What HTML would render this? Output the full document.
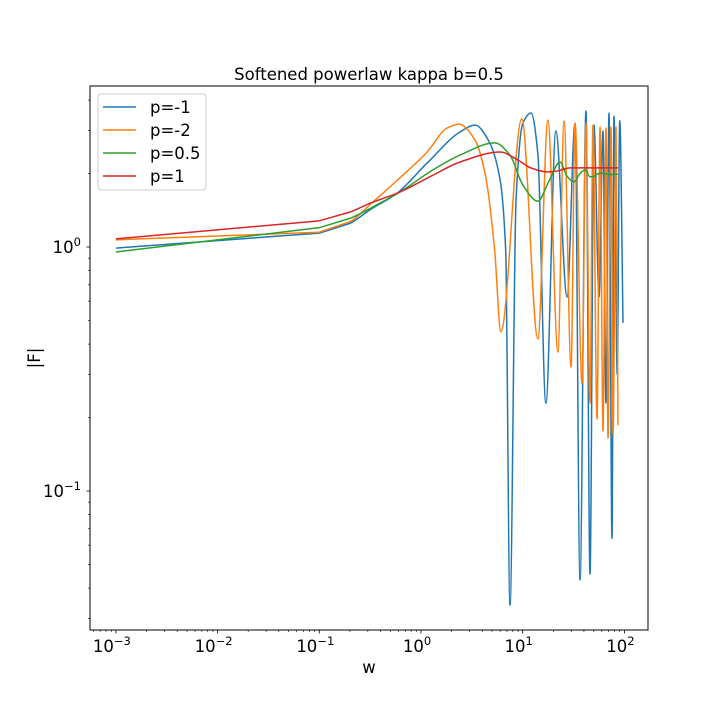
<!DOCTYPE html>
<html><head><meta charset="utf-8"><style>
body{margin:0;background:#fff}
svg text{font-family:"DejaVu Sans","Liberation Sans",sans-serif;fill:#000}
</style></head><body>
<svg id="chart" width="720" height="720" xmlns="http://www.w3.org/2000/svg">
<rect width="720" height="720" fill="#fff"/>
<text x="369" y="80" font-size="16.5" text-anchor="middle">Softened powerlaw kappa b=0.5</text>
<text x="369" y="673" font-size="16.5" text-anchor="middle">w</text>
<text x="40" y="358" font-size="16.5" text-anchor="middle" transform="rotate(-90 40 358)">|F|</text>
<g id="ticks"></g>
<g id="series" clip-path="url(#clip)"></g>
<defs><clipPath id="clip"><rect x="90" y="86" width="558" height="544"/></clipPath></defs>
<rect x="90" y="86" width="558" height="544" fill="none" stroke="#000" stroke-width="1"/>
<g id="legend"></g>
</svg>
<script>
const seriesNames=["p=-1","p=-2","p=0.5","p=1"];
const seriesColors=["#1f77b4","#ff7f0e","#2ca02c","#d62728"];
const xTickExps=[-3,-2,-1,0,1,2];
const yTickExps=[-1,0];
const wBlue=[0.001,0.1,0.2,0.315,0.58,1.15,2.42,3.4,4.6,6.0,6.8,7.5,8.6,10,12.1,14.1,16.9,21.2,27.3,32.7,36.6,41.9,45.9,50.2,56.3,61.6,65.9,70.6,75.5,79.0,85,90,96.9];
const fBlue=[0.99,1.14,1.25,1.42,1.66,2.21,2.96,3.16,2.74,1.88,0.97,0.0341,1.56,3.2,3.54,2.4,0.229,2.99,0.624,3.22,0.0432,3.61,0.0457,3.16,0.624,2.99,0.229,3.54,0.064,3.44,0.3,3.3,0.489];
const wOrange=[0.001,0.1,0.2,0.337,0.62,1.15,1.8,2.36,3.4,4.3,5.3,6.1,9.8,14.1,17.7,22.2,25.5,29.9,32.7,38.3,41.9,45.9,49.1,53.8,57.6,61.6,65.9,69.0,73.9,77.3,82.7,86.5];
const fOrange=[1.07,1.15,1.27,1.53,1.92,2.45,3.07,3.19,2.74,1.97,0.97,0.449,3.35,0.42,3.31,0.371,3.28,0.322,3.22,0.277,3.22,0.229,3.16,0.197,3.10,0.176,3.07,0.165,3.10,0.171,3.10,0.186];
const wGreen=[0.001,0.1,0.2,0.369,0.62,1.31,2.42,5.3,7.5,10,14.1,18,23.3,27.3,31.9,36.6,41.0,45.9,49.1,54,60.3,70,86.5];
const fGreen=[0.954,1.2,1.31,1.49,1.68,2.07,2.38,2.67,2.38,1.8,1.54,1.85,2.23,1.95,1.85,2.0,2.07,1.94,1.94,1.99,2.01,1.98,1.99];
const wRed=[0.001,0.1,0.2,0.315,0.62,1.31,2.42,6.0,9.0,12,17.7,22,29.2,40,60,86.5];
const fRed=[1.08,1.28,1.39,1.51,1.68,1.97,2.23,2.45,2.27,2.11,2.03,2.05,2.11,2.11,2.11,2.11];
const allW=[wBlue,wOrange,wGreen,wRed];
const allF=[fBlue,fOrange,fGreen,fRed];

const NS="http://www.w3.org/2000/svg";
function xs(w){return 421+101.7*Math.log10(w);}
function ys(f){return 247-244*Math.log10(f);}
function mk(tag,attrs,parent){const e=document.createElementNS(NS,tag);for(const k in attrs)e.setAttribute(k,attrs[k]);parent.appendChild(e);return e;}

const tg=document.getElementById('ticks');
for(let e=-4;e<=2;e++){
  for(let m=1;m<10;m++){
    const x=xs(m*Math.pow(10,e));
    if(x<90||x>648)continue;
    const t=mk('line',{x1:x,x2:x,y1:630,y2:m===1?633.5:632,stroke:'#000','stroke-width':m===1?0.8:0.6},tg);
    
    
  }
}
xTickExps.forEach(e=>{
  const x=xs(Math.pow(10,e));
  const t=mk('text',{x:x-4,y:652,'font-size':16.5,'text-anchor':'middle'},tg);
  
  
  t.innerHTML='10<tspan dy="-7" font-size="11.5">'+(e<0?'\u2212':'')+Math.abs(e)+'</tspan>';
});
for(let e=-2;e<=1;e++){
  for(let m=1;m<10;m++){
    const y=ys(m*Math.pow(10,e));
    if(y<86||y>630)continue;
    const t=mk('line',{x1:90,x2:m===1?86.5:88,y1:y,y2:y,stroke:'#000','stroke-width':m===1?0.8:0.6},tg);
    
    
  }
}
yTickExps.forEach(e=>{
  const y=ys(Math.pow(10,e));
  const t=mk('text',{x:81,y:y+6,'font-size':16.5,'text-anchor':'end'},tg);
  
  
  t.innerHTML='10<tspan dy="-7" font-size="11.5">'+(e<0?'\u2212':'')+Math.abs(e)+'</tspan>';
});

function pathFor(ws,fs){
  const p=ws.map((w,i)=>[xs(w),ys(fs[i])]);
  const n=p.length;
  const d=[],m=new Array(n).fill(0);
  for(let i=0;i<n-1;i++)d.push((p[i+1][1]-p[i][1])/(p[i+1][0]-p[i][0]));
  m[0]=d[0];m[n-1]=d[n-2];
  for(let i=1;i<n-1;i++){
    if(d[i-1]*d[i]<=0)m[i]=0;
    else{const h0=p[i][0]-p[i-1][0],h1=p[i+1][0]-p[i][0];m[i]=3*(h0+h1)/((2*h1+h0)/d[i-1]+(h1+2*h0)/d[i]);}
  }
  let s='M'+p[0][0].toFixed(2)+','+p[0][1].toFixed(2);
  for(let i=0;i<n-1;i++){
    if(i<2){s+=' L'+p[i+1][0].toFixed(2)+','+p[i+1][1].toFixed(2);continue;}
    const h=(p[i+1][0]-p[i][0])/3;
    s+=' C'+(p[i][0]+h).toFixed(2)+','+(p[i][1]+m[i]*h).toFixed(2)+' '+(p[i+1][0]-h).toFixed(2)+','+(p[i+1][1]-m[i+1]*h).toFixed(2)+' '+p[i+1][0].toFixed(2)+','+p[i+1][1].toFixed(2);
  }
  return s;
}
const sg=document.getElementById('series');
allW.forEach((ws,i)=>{
  const el=mk('path',{d:pathFor(ws,allF[i]),fill:'none',stroke:seriesColors[i],'stroke-width':1.5,'stroke-linejoin':'round'},sg);
  
  
});
const lg=document.getElementById('legend');
const box=mk('rect',{x:98,y:94,width:108,height:96,rx:3,fill:'#fff','fill-opacity':0.8,stroke:'#ccc'},lg);


seriesNames.forEach((n,i)=>{
  const y=107+i*23;
  const l=mk('line',{x1:103,x2:136,y1:y,y2:y,stroke:seriesColors[i],'stroke-width':1.5},lg);
  
  
  const t=mk('text',{x:150,y:y+6,'font-size':16.5},lg);
  
  
  t.textContent=n;
});
</script>
</body></html>
